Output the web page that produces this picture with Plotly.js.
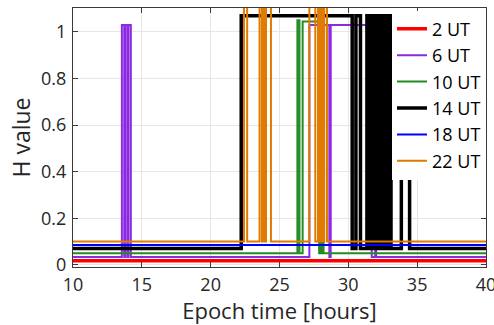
<!DOCTYPE html>
<html>
<head>
<meta charset="utf-8">
<script src="https://cdn.plot.ly/plotly-3.0.1.min.js"></script>
<style>html,body{margin:0;padding:0;background:#fff;}#chart{width:494px;height:325px;}</style>
</head>
<body>
<div id="chart"></div>
<script>
// Series names
const seriesNames = ["2 UT", "6 UT", "10 UT", "14 UT", "18 UT", "22 UT"];

// 2 UT (red)
const x02 = [10, 40];
const y02 = [0.018, 0.018];

// 6 UT (purple)
const x06 = [10, 13.55, 13.72, 13.8, 13.96, 14.03, 14.2, 27.17, 28.62, 28.72, 31.7, 31.95, 32.02, 40];
const y06 = [0.034, 1.03, 0.034, 1.03, 0.034, 1.03, 0.034, 1.03, 0.034, 1.03, 0.034, 1.03, 0.034, 0.034];

// 10 UT (green)
const x10 = [10, 26.3, 26.45, 26.68, 27.88, 27.95, 28.03, 28.1, 28.2, 40];
const y10 = [0.05, 1.05, 0.05, 1.045, 0.05, 1.045, 0.05, 1.045, 0.05, 0.05];

// 14 UT (black)
const x14 = [10, 22.22, 30.28, 30.55, 30.88, 31.35, 31.6, 31.72, 31.8, 31.86, 31.93, 31.99, 32.06, 32.12, 32.19, 32.25, 32.32, 32.38, 32.45, 32.51, 32.58, 32.64, 32.71, 32.77, 32.84, 32.9, 32.97, 33.03, 33.1, 33.85, 34.45, 40];
const y14 = [0.07, 1.07, 0.07, 1.07, 0.07, 1.07, 0.07, 1.07, 0.07, 1.07, 0.07, 1.07, 0.07, 1.07, 0.07, 1.07, 0.07, 1.07, 0.07, 1.07, 0.07, 1.07, 0.07, 1.07, 0.07, 1.07, 0.07, 1.07, 0.07, 0.4, 0.07, 0.07];

// 18 UT (blue)
const x18 = [10, 40];
const y18 = [0.085, 0.085];

// 22 UT (orange)
const x22 = [10, 22.42, 22.65, 23.55, 23.72, 23.78, 23.92, 24.02, 24.38, 27.17, 27.6, 27.8, 27.9, 27.95, 28.05, 28.1, 28.2, 28.25, 28.45, 40];
const y22 = [0.1, 1.15, 0.1, 1.15, 0.1, 1.15, 0.1, 1.15, 0.1, 1.15, 0.1, 1.15, 0.1, 1.15, 0.1, 1.15, 0.1, 1.15, 0.1, 0.1];

// Axis ticks
const xTicks = [10, 15, 20, 25, 30, 35, 40];
const yTicks = [0, 0.2, 0.4, 0.6, 0.8, 1];
const yTickText = ["0", "0.2", "0.4", "0.6", "0.8", "1"];

const colors = ["#ff0000", "#8a2be2", "#228b22", "#000000", "#0000ff", "#e07b00"];
const widths = [3.5, 2, 2, 3.5, 2, 2];
const xs = [x02, x06, x10, x14, x18, x22];
const ys = [y02, y06, y10, y14, y18, y22];

const traces = seriesNames.map((n, i) => ({
  type: "scatter", mode: "lines", name: n,
  x: xs[i], y: ys[i],
  line: {color: colors[i], width: widths[i], shape: "hv"}
}));

const axisCommon = {
  showline: true, mirror: "ticks", linecolor: "#3a3a3a", linewidth: 1,
  ticks: "inside", ticklen: 5, tickcolor: "#3a3a3a",
  showgrid: true, gridcolor: "#e6e6e6", gridwidth: 1,
  zeroline: false, ticklabeloverflow: "allow",
  tickfont: {family: "Open Sans", size: 18, color: "#262626"}
};

const layout = {
  width: 494, height: 325,
  margin: {l: 73, r: 8, t: 8, b: 58},
  paper_bgcolor: "#ffffff", plot_bgcolor: "#ffffff",
  font: {family: "Open Sans", color: "#262626"},
  xaxis: Object.assign({}, axisCommon, {
    range: [10, 40], tickvals: xTicks, ticklabelstandoff: 1,
    title: {text: "Epoch time [hours]", font: {family: "Open Sans", size: 22, color: "#262626"}, standoff: 7}
  }),
  yaxis: Object.assign({}, axisCommon, {
    range: [-0.009, 1.103], tickvals: yTicks, ticktext: yTickText, ticklabelstandoff: 2,
    title: {text: "H value", font: {family: "Open Sans", size: 23, color: "#262626"}, standoff: 4}
  }),
  showlegend: true,
  legend: {
    x: 1, xanchor: "right", y: 0.99, yanchor: "top",
    bgcolor: "#ffffff", borderwidth: 0,
    font: {family: "Open Sans", size: 18, color: "#000000"},
    itemwidth: 30, tracegroupgap: 0
  }
};

Plotly.newPlot("chart", traces, layout, {displayModeBar: false, staticPlot: true});
</script>
</body>
</html>
